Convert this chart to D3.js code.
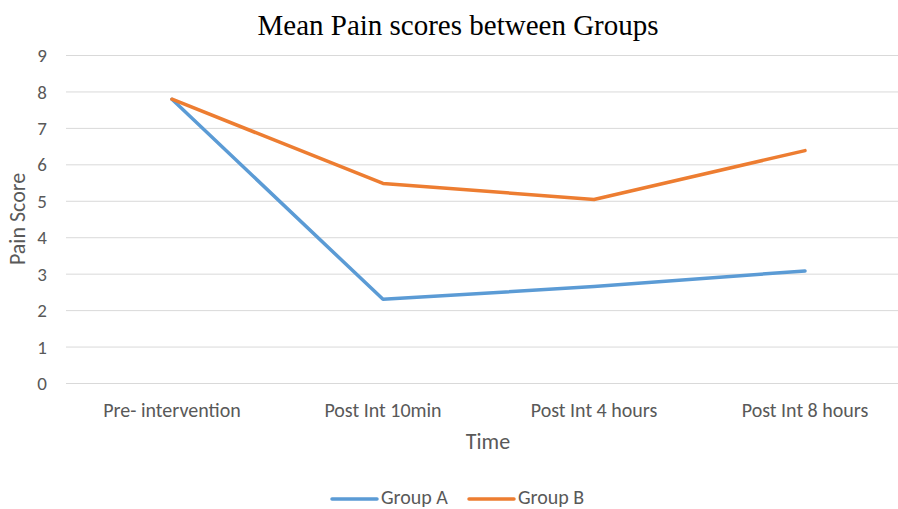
<!DOCTYPE html>
<html><head><meta charset="utf-8">
<script src="https://cdn.jsdelivr.net/npm/d3@7"></script>
<style>body{margin:0;background:#fff;}svg{display:block;}</style>
</head><body>
<script>
const categories = ["Pre- intervention", "Post Int 10min", "Post Int 4 hours", "Post Int 8 hours"];
const groupA = [7.8, 2.31, 2.66, 3.09];
const groupB = [7.8, 5.49, 5.05, 6.39];
const seriesNames = ["Group A", "Group B"];
const yTicks = [0,1,2,3,4,5,6,7,8,9];
const colors = ["#5B9BD5", "#ED7D31"];

const W = 898, H = 509;
const svg = d3.select("body").append("svg").attr("width", W).attr("height", H);
const x = d3.scalePoint().domain(categories).range([172, 805]);
const y = d3.scaleLinear().domain([0, 9]).range([383.5, 55.5]);
const fontUI = "Carlito, Calibri, 'Liberation Sans Narrow', 'Open Sans', sans-serif";

svg.append("g").selectAll("line").data(yTicks).join("line")
  .attr("x1", 66).attr("x2", 910)
  .attr("y1", d => y(d)).attr("y2", d => y(d))
  .attr("stroke", "#d9d9d9").attr("stroke-width", 1);

svg.append("g").selectAll("text").data(yTicks).join("text")
  .attr("x", 47).attr("y", d => y(d)).attr("dy", "0.35em")
  .attr("text-anchor", "end").attr("fill", "#595959")
  .style("font-family", fontUI).style("font-size", "19px")
  .text(d => d);

svg.append("g").selectAll("text").data(categories).join("text")
  .attr("x", d => x(d)).attr("y", 417)
  .attr("text-anchor", "middle").attr("fill", "#595959")
  .style("font-family", fontUI).style("font-size", "20px")
  .text(d => d);

svg.append("text").attr("x", 488).attr("y", 449).attr("text-anchor", "middle")
  .attr("fill", "#595959").style("font-family", fontUI).style("font-size", "22px").text("Time");
svg.append("text").attr("transform", "translate(25,219) rotate(-90)").attr("text-anchor", "middle")
  .attr("fill", "#595959").style("font-family", fontUI).style("font-size", "22px").text("Pain Score");

svg.append("text").attr("x", 458).attr("y", 35).attr("text-anchor", "middle")
  .attr("fill", "#000").style("font-family", "'Liberation Serif', 'Times New Roman', serif").style("font-size", "29px")
  .text("Mean Pain scores between Groups");

const line = d3.line().x((d, i) => x(categories[i])).y(d => y(d));
[groupA, groupB].forEach((s, k) => {
  svg.append("path").datum(s).attr("d", line)
    .attr("fill", "none").attr("stroke", colors[k]).attr("stroke-width", 3.5)
    .attr("stroke-linejoin", "round").attr("stroke-linecap", "round");
});

const legX = [332, 469];
seriesNames.forEach((n, k) => {
  svg.append("line").attr("x1", legX[k]).attr("x2", legX[k] + 45).attr("y1", 499).attr("y2", 499)
    .attr("stroke", colors[k]).attr("stroke-width", 3.5).attr("stroke-linecap", "round");
  svg.append("text").attr("x", legX[k] + 49).attr("y", 497).attr("dy", "0.35em")
    .attr("fill", "#595959").style("font-family", fontUI).style("font-size", "20px").text(n);
});
</script>
</body></html>
